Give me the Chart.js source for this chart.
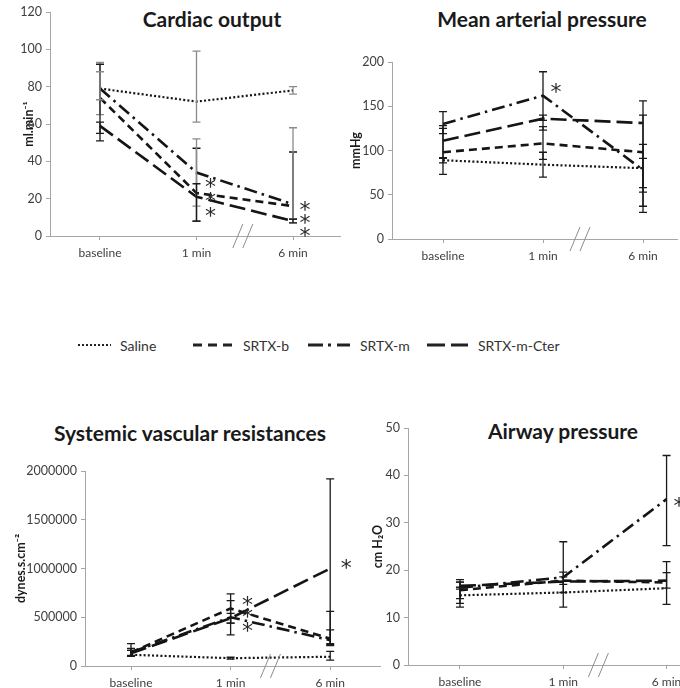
<!DOCTYPE html>
<html><head><meta charset="utf-8">
<script src="https://cdn.jsdelivr.net/npm/chart.js@4.4.1/dist/chart.umd.min.js"></script>
<style>
html,body{margin:0;padding:0;background:#fff}
body{width:680px;height:688px;position:relative;overflow:hidden;font-family:Lato,"Open Sans",sans-serif}
canvas{position:absolute}
.ttl{position:absolute;font-weight:bold;font-size:21px;color:#1a1a1a;transform:translate(-50%,-50%);white-space:nowrap}
.lg{position:absolute;top:345px;transform:translateY(-50%);font-size:14px;color:#333;white-space:nowrap}
svg.ls{position:absolute;top:339px;overflow:visible}
</style></head><body>
<div class="ttl" style="left:212px;top:18px">Cardiac output</div>
<div class="ttl" style="left:542px;top:18px">Mean arterial pressure</div>
<div class="ttl" style="left:190px;top:432px">Systemic vascular resistances</div>
<div class="ttl" style="left:563px;top:430px">Airway pressure</div>

<svg class="ls" style="left:78px" width="34" height="12"><line x1="0" y1="6" x2="33" y2="6" stroke="#222" stroke-width="2.2" stroke-dasharray="2 2"/></svg>
<div class="lg" style="left:120px">Saline</div>
<svg class="ls" style="left:193px" width="40" height="12"><line x1="0" y1="6" x2="39" y2="6" stroke="#222" stroke-width="3.2" stroke-dasharray="9 6"/></svg>
<div class="lg" style="left:243px">SRTX-b</div>
<svg class="ls" style="left:308px" width="43" height="12"><line x1="0" y1="6" x2="42" y2="6" stroke="#222" stroke-width="3.2" stroke-dasharray="15 5 3 6 13"/></svg>
<div class="lg" style="left:360px">SRTX-m</div>
<svg class="ls" style="left:427px" width="42" height="12"><line x1="0" y1="6" x2="41" y2="6" stroke="#222" stroke-width="3.2" stroke-dasharray="18 6"/></svg>
<div class="lg" style="left:478px">SRTX-m-Cter</div>

<canvas id="c1"></canvas>
<canvas id="c2"></canvas>
<canvas id="c3"></canvas>
<canvas id="c4"></canvas>

<script>
// ---------- data ----------
const categories = ['baseline', '1 min', '6 min'];
const seriesNames = ['Saline', 'SRTX-b', 'SRTX-m', 'SRTX-m-Cter'];

// Cardiac output (ml.min-1)
const coSaline = [79, 72, 78];
const coSrtxB  = [74, 23, 16];
const coSrtxM  = [79, 34, 17];
const coCter   = [59, 21, 8];
const coErrSaline = [[65, 93], [61, 99], [76, 80]];
const coErrSrtxB  = [[55, 92], [8, 47], [9, 45]];
const coErrSrtxM  = [[73, 88], [16, 52], [7, 58]];
const coErrCter   = [[51, 61], [8, 28], [7, 9]];
const coStars = [[1.145, 29.5], [1.145, 22], [1.145, 14], [2.125, 17], [2.125, 10.3], [2.125, 3.4]];
const coTicks = [0, 120, 20];

// Mean arterial pressure (mmHg)
const mapSaline = [89, 84, 80];
const mapSrtxB  = [98, 108, 98];
const mapSrtxM  = [130, 162, 78];
const mapCter   = [111, 136, 131];
const mapErrSaline = [[86, 92], [70, 98], [37, 91]];
const mapErrSrtxB  = [[73, 125], [90, 127], [58, 107]];
const mapErrSrtxM  = [[119, 144], [134, 189], [30, 156]];
const mapErrCter   = [[91, 128], [123, 140], [53, 140]];
const mapStars = [[1.13, 173]];
const mapTicks = [0, 200, 50];

// Systemic vascular resistances (dynes.s.cm-2)
const svrSaline = [115000, 80000, 95000];
const svrSrtxB  = [140000, 590000, 280000];
const svrSrtxM  = [140000, 500000, 265000];
const svrCter   = [130000, 490000, 1000000];
const svrErrSaline = [[100000, 160000], [70000, 90000], [60000, 150000]];
const svrErrSrtxB  = [[110000, 230000], [440000, 740000], [210000, 560000]];
const svrErrSrtxM  = [[100000, 180000], [320000, 670000], [230000, 370000]];
const svrErrCter   = [[100000, 160000], [440000, 540000], [220000, 1920000]];
const svrStars = [[1.17, 688000], [1.17, 565000], [1.17, 421000], [2.16, 1071000]];
const svrTicks = [0, 2000000, 500000];

// Airway pressure (cm H2O)
const awSaline = [14.7, 15.3, 16.2];
const awSrtxB  = [15.8, 17.8, 17.4];
const awSrtxM  = [16.3, 18.5, 35];
const awCter   = [16.7, 17.6, 17.8];
const awErrSaline = [[13, 16.4], null, null];
const awErrSrtxB  = [[12.2, 18], [15.3, 19.6], [12.8, 21.8]];
const awErrSrtxM  = [[14, 17.5], [12.2, 26], [25.2, 44.2]];
const awErrCter   = [[16, 17.5], [17, 18.6], [16.2, 19.5]];
const awStars = [[2.12, 34.8]];
const awTicks = [0, 50, 10];

// ---------- styles ----------
Chart.defaults.font.family = 'Lato, "Open Sans", sans-serif';
Chart.defaults.animation = false;
const lineStyles = [
  {borderDash: [2, 2.2], borderWidth: 2.2},
  {borderDash: [8, 5], borderWidth: 2.6},
  {borderDash: [13, 5, 2.5, 5], borderWidth: 2.6},
  {borderDash: [16, 6], borderWidth: 2.6}
];
const AXIS = '#a6a6a6';

function makePanel(id, canvasBox, area, xRange, yTicks, yTitle, series, errs, errColors, stars, breakAt) {
  const cv = document.getElementById(id);
  cv.style.left = canvasBox[0] + 'px';
  cv.style.top = canvasBox[1] + 'px';
  cv.width = canvasBox[2]; cv.height = canvasBox[3];
  cv.style.width = canvasBox[2] + 'px'; cv.style.height = canvasBox[3] + 'px';
  const padTop = area[1] - canvasBox[1];
  const padRight = (canvasBox[0] + canvasBox[2]) - area[2];
  const yW = area[0] - canvasBox[0];
  const xH = (canvasBox[1] + canvasBox[3]) - area[3];

  const decor = {
    id: 'decor_' + id,
    afterDatasetsDraw(chart) {
      const {ctx} = chart; const x = chart.scales.x, y = chart.scales.y;
      ctx.save();
      errs.forEach((list, si) => {
        ctx.strokeStyle = errColors[si]; ctx.lineWidth = 1.3;
        list.forEach((e, i) => {
          if (!e) return;
          const px = x.getPixelForValue(i);
          const y1 = y.getPixelForValue(e[0]), y2 = y.getPixelForValue(e[1]);
          ctx.beginPath();
          ctx.moveTo(px, y1); ctx.lineTo(px, y2);
          ctx.moveTo(px - 4, y1); ctx.lineTo(px + 4, y1);
          ctx.moveTo(px - 4, y2); ctx.lineTo(px + 4, y2);
          ctx.stroke();
        });
      });
      // axis break
      const bx = x.getPixelForValue(breakAt), by = y.getPixelForValue(0);
      ctx.strokeStyle = '#8c8c8c'; ctx.lineWidth = 1;
      [-5, 5].forEach(d => {
        ctx.beginPath(); ctx.moveTo(bx + d - 5, by + 12); ctx.lineTo(bx + d + 5, by - 12); ctx.stroke();
      });
      // significance stars
      const fs = 22;
      ctx.fillStyle = '#2a2a2a'; ctx.font = fs + 'px "DejaVu Sans"';
      ctx.textAlign = 'center'; ctx.textBaseline = 'alphabetic';
      stars.forEach(s => ctx.fillText('*', x.getPixelForValue(s[0]), y.getPixelForValue(s[1]) + 0.6 * fs));
      ctx.restore();
    }
  };

  return new Chart(cv, {
    type: 'line',
    data: {
      datasets: series.map((vals, si) => ({
        label: seriesNames[si],
        data: vals.map((v, i) => ({x: i, y: v})),
        borderColor: '#151515',
        borderDash: lineStyles[si].borderDash,
        borderWidth: lineStyles[si].borderWidth,
        pointRadius: 0, fill: false, tension: 0
      }))
    },
    options: {
      responsive: false, maintainAspectRatio: false, animation: false,
      layout: {padding: {top: padTop, right: padRight, left: 0, bottom: 0}},
      plugins: {legend: {display: false}, tooltip: {enabled: false}, title: {display: false}},
      scales: {
        x: {
          type: 'linear', min: xRange[0], max: xRange[1],
          afterBuildTicks: s => { s.ticks = categories.map((c, i) => ({value: i})); },
          afterFit: s => { s.height = xH; s.paddingLeft = 0; s.paddingRight = 0; },
          ticks: {callback: v => categories[v], color: '#404040', font: {size: 12}, padding: 6, maxRotation: 0, autoSkip: false},
          grid: {display: true, drawOnChartArea: false, drawTicks: true, tickLength: 4, color: AXIS},
          border: {display: true, color: AXIS, width: 1}
        },
        y: {
          min: yTicks[0], max: yTicks[1],
          ticks: {stepSize: yTicks[2], color: '#404040', font: {size: 12.5}, padding: 4, callback: v => String(v)},
          afterFit: s => { s.width = yW; s.paddingTop = 0; s.paddingBottom = 0; },
          grid: {display: true, drawOnChartArea: false, drawTicks: true, tickLength: 4, color: AXIS},
          border: {display: true, color: AXIS, width: 1},
          title: {display: true, text: yTitle, color: '#1a1a1a', font: {size: 12.5, weight: 'bold'}, padding: 0}
        }
      }
    },
    plugins: [decor]
  });
}

makePanel('c1', [21, 0, 325, 272], [50, 12, 340, 236], [-0.518, 2.487], coTicks, 'ml.min⁻¹',
  [coSaline, coSrtxB, coSrtxM, coCter],
  [coErrSaline, coErrSrtxB, coErrSrtxM, coErrCter], ['#8a8a8a', '#1a1a1a', '#8a8a8a', '#1a1a1a'], coStars, 1.48);

makePanel('c2', [348, 0, 332, 272], [392, 62, 677, 239], [-0.51, 2.34], mapTicks, 'mmHg',
  [mapSaline, mapSrtxB, mapSrtxM, mapCter],
  [mapErrSaline, mapErrSrtxB, mapErrSrtxM, mapErrCter], ['#1a1a1a', '#1a1a1a', '#1a1a1a', '#1a1a1a'], mapStars, 1.37);

makePanel('c3', [13, 445, 372, 243], [85, 471, 380, 666], [-0.462, 2.50], svrTicks, 'dynes.s.cm⁻²',
  [svrSaline, svrSrtxB, svrSrtxM, svrCter],
  [svrErrSaline, svrErrSrtxB, svrErrSrtxM, svrErrCter], ['#1a1a1a', '#1a1a1a', '#1a1a1a', '#1a1a1a'], svrStars, 1.40);

makePanel('c4', [370, 412, 310, 276], [408, 428, 680, 665], [-0.503, 2.13], awTicks, 'cm H₂O',
  [awSaline, awSrtxB, awSrtxM, awCter],
  [awErrSaline, awErrSrtxB, awErrSrtxM, awErrCter], ['#1a1a1a', '#1a1a1a', '#1a1a1a', '#1a1a1a'], awStars, 1.34);
</script>
</body></html>
